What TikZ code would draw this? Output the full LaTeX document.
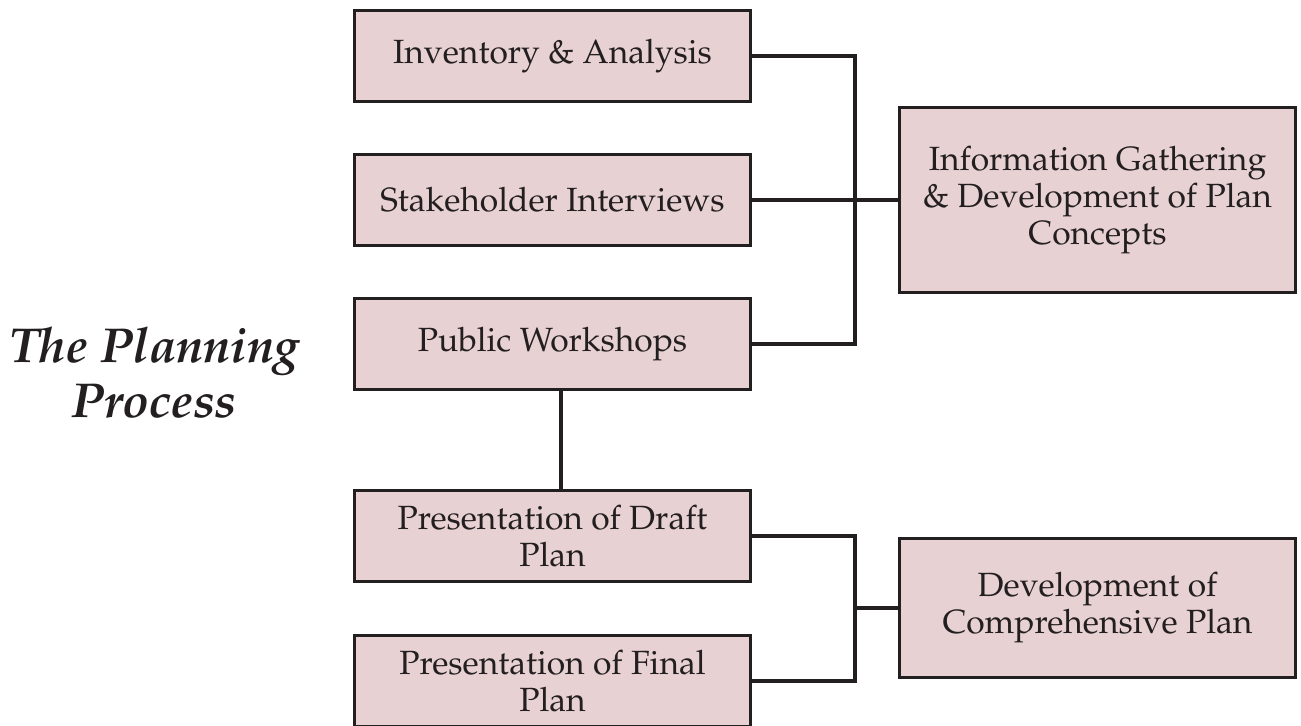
\documentclass[tikz,border=0pt]{standalone}
\usepackage[T1]{fontenc}
\usepackage{mathpazo}
\usepackage{tikz}

\definecolor{stagefill}{HTML}{E8D1D2}
\definecolor{inkdark}{HTML}{231F20}

\tikzset{
  stage/.style={draw=inkdark, line width=1.5pt, fill=stagefill, text=inkdark,
    minimum width=198pt, minimum height=45.5pt, inner sep=0pt, align=center,
    font=\fontsize{16.8}{18.5}\selectfont},
  link/.style={draw=inkdark, line width=2pt}
}

\begin{document}
\begin{tikzpicture}[x=0.5pt, y=-0.5pt]
\path[use as bounding box, clip] (0,0) rectangle (1301,725);
%
\node [font=\fontsize{24.5}{27.5}\selectfont\bfseries\itshape, align=center, text=inkdark] (title) at (154,373) {The Planning\\Process};
%
\node [stage] (inventory)  at (552.5,56)  {Inventory \& Analysis};
\node [stage] (interviews) at (552.5,200) {Stakeholder Interviews};
\node [stage] (workshops)  at (552.5,344) {Public Workshops};
\node [stage] (draft)      at (552.5,536) {Presentation of Draft\\Plan};
\node [stage] (final)      at (552.5,681) {Presentation of Final\\Plan};
%
\node [stage, minimum height=92.5pt] (gathering)     at (1097.5,200) {Information Gathering\\\& Development of Plan\\Concepts};
\node [stage, minimum height=69.5pt] (comprehensive) at (1097.5,608) {Development of\\Comprehensive Plan};
%
\coordinate (upperbus) at (855,200);
\coordinate (lowerbus) at (855,608);
%
\draw [link] (inventory.east) -| (upperbus) |- (workshops.east);
\draw [link] (interviews.east) -- (gathering.west);
\draw [link] ([xshift=4.25pt]workshops.south) -- ([xshift=4.25pt]draft.north);
\draw [link] (draft.east) -| (lowerbus) |- (final.east);
\draw [link] (lowerbus) -- (comprehensive.west);
%%%%%%%%%%%%%%%%%%%%%%%%%%%%%%%
\end{tikzpicture}
\end{document}
